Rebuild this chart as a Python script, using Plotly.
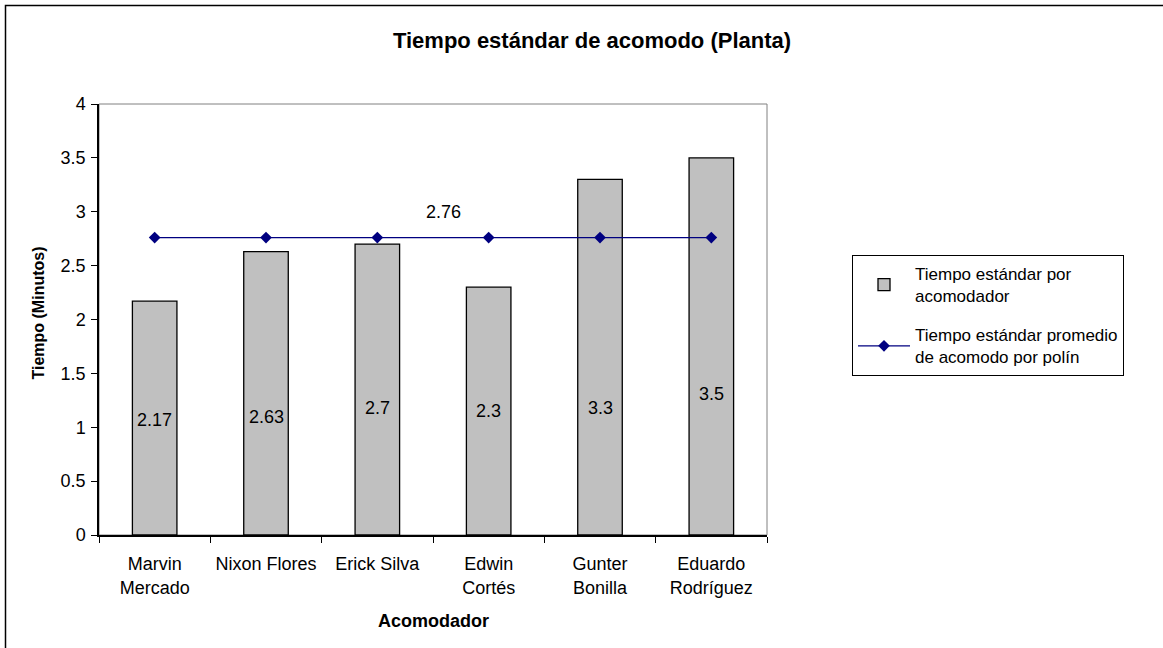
import plotly.graph_objects as go

categories = ["Marvin<br>Mercado", "Nixon Flores", "Erick Silva", "Edwin<br>Cortés",
              "Gunter<br>Bonilla", "Eduardo<br>Rodríguez"]
tiempo_estandar = [2.17, 2.63, 2.7, 2.3, 3.3, 3.5]
promedio = [2.76, 2.76, 2.76, 2.76, 2.76, 2.76]
y_ticks = [0, 0.5, 1, 1.5, 2, 2.5, 3, 3.5, 4]
y_tick_text = ["0", "0.5", "1", "1.5", "2", "2.5", "3", "3.5", "4"]

# label placement (data units) for the bar value labels, as laid out in the original
label_y = [1.07, 1.095, 1.18, 1.15, 1.18, 1.31]

FONT = "Liberation Sans, Arial, sans-serif"
W, H = 1163, 648
ML, MR, MT, MB = 99, 396, 104, 113
PW = W - ML - MR
PH = H - MT - MB

fig = go.Figure()
fig.add_trace(go.Bar(
    x=categories, y=tiempo_estandar,
    name="Tiempo estándar por<br>acomodador", legendgroup="g1",
    marker=dict(color="#C0C0C0", line=dict(color="black", width=1.3)),
))
fig.add_trace(go.Scatter(
    x=categories, y=promedio, mode="lines+markers",
    name="Tiempo estándar promedio<br>de acomodo por polín", legendgroup="g2",
    line=dict(color="#000080", width=1.3),
    marker=dict(symbol="diamond", size=9, color="#000080"),
))

annotations = []
for c, v, ly in zip(categories, tiempo_estandar, label_y):
    annotations.append(dict(x=c, y=ly, xref="x", yref="y", text=str(v), showarrow=False,
                            font=dict(family=FONT, size=18, color="black")))
# average label
annotations.append(dict(x=2.59, y=promedio[3], xref="x", yref="y", text=str(promedio[3]),
                        showarrow=False, yshift=26,
                        font=dict(family=FONT, size=18, color="black")))
# axis titles
annotations.append(dict(x=0.5, y=0, xref="paper", yref="paper", yanchor="middle",
                        yshift=-86, text="<b>Acomodador</b>", showarrow=False,
                        font=dict(family=FONT, size=18, color="black")))
annotations.append(dict(x=0, y=0.5, xref="paper", yref="paper", xanchor="center",
                        yshift=6, xshift=-61, text="<b>Tiempo (Minutos)</b>", textangle=-90,
                        showarrow=False, font=dict(family=FONT, size=16, color="black")))

shapes = [
    # plot area border (gray top/right)
    dict(type="rect", xref="paper", yref="paper", x0=0, y0=0, x1=1, y1=1,
         line=dict(color="#808080", width=1), layer="below"),
    # outer chart border (extends beyond the visible page on right/bottom)
    dict(type="rect", xref="paper", yref="paper",
         x0=(5.5 - ML) / PW, y0=-0.4, x1=1.8, y1=(H - MB - 5.5) / PH,
         line=dict(color="black", width=1.5)),
]

fig.update_layout(
    width=W, height=H,
    margin=dict(l=ML, r=MR, t=MT, b=MB, autoexpand=False),
    paper_bgcolor="white", plot_bgcolor="white",
    font=dict(family=FONT, size=18, color="black"),
    title=dict(text="<b>Tiempo estándar de acomodo (Planta)</b>", x=(592 / W), xanchor="center",
               y=1 - 40 / H, yanchor="middle", font=dict(family=FONT, size=22, color="black")),
    bargap=0.6,
    showlegend=True,
    legend=dict(x=(852 - ML) / PW, y=(H - MB - 255) / PH, xanchor="left", yanchor="top",
                bordercolor="black", borderwidth=1, bgcolor="white",
                font=dict(family=FONT, size=17, color="black"),
                tracegroupgap=14, itemwidth=52),
    annotations=annotations,
    shapes=shapes,
)
fig.update_xaxes(
    type="category", showline=True, linecolor="black", linewidth=1.5,
    ticks="outside", tickson="boundaries", ticklen=6, tickcolor="black", tickwidth=1,
    showgrid=False, tickfont=dict(family=FONT, size=18, color="black"),
    ticklabelstandoff=12, fixedrange=True,
)
fig.update_yaxes(
    range=[0, 4], tickvals=y_ticks, ticktext=y_tick_text, showline=True,
    linecolor="black", linewidth=1.5, ticks="outside", ticklen=6, tickcolor="black",
    showgrid=False, zeroline=False, tickfont=dict(family=FONT, size=18, color="black"),
    ticklabelstandoff=2,
)

fig.write_html("out.html", config={"displayModeBar": False},
               post_script="document.body.style.margin='0';")
